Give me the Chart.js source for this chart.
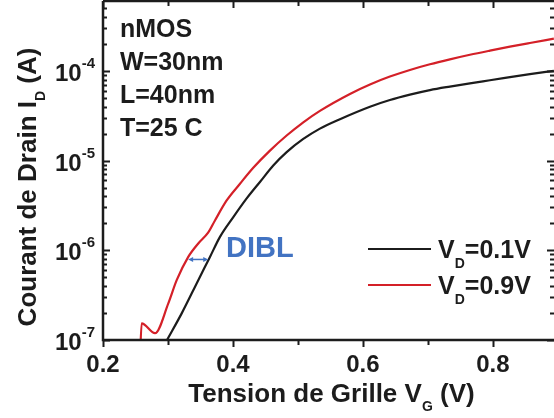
<!DOCTYPE html>
<html>
<head>
<meta charset="utf-8">
<script src="https://cdn.jsdelivr.net/npm/chart.js@4"></script>
<style>
html, body { margin: 0; padding: 0; background: #fff; }
#wrap { width: 554px; height: 418px; }
</style>
</head>
<body>
<div id="wrap"><canvas id="c"></canvas></div>
<script>
// V_D = 0.1V (black)
const vgLow = [0.2985, 0.3211, 0.3466, 0.3646, 0.380, 0.4005, 0.4211, 0.4415, 0.462, 0.4826, 0.5082, 0.5338, 0.5646, 0.6108, 0.6415, 0.6723, 0.7031, 0.7338, 0.7646, 0.7954, 0.8262, 0.8569, 0.8938];
const idLow = [1.0e-7, 1.98e-7, 4.64e-7, 8.43e-7, 1.41e-6, 2.34e-6, 3.78e-6, 5.77e-6, 8.8e-6, 1.24e-5, 1.74e-5, 2.27e-5, 2.89e-5, 3.98e-5, 4.73e-5, 5.43e-5, 6.1e-5, 6.68e-5, 7.26e-5, 7.85e-5, 8.49e-5, 9.18e-5, 1.0e-4];
// V_D = 0.9V (red)
const vgHigh = [0.2565, 0.2595, 0.280, 0.3005, 0.3134, 0.3312, 0.3466, 0.362, 0.3723, 0.3903, 0.4108, 0.4312, 0.4569, 0.4826, 0.5082, 0.5338, 0.580, 0.6108, 0.6415, 0.6723, 0.7031, 0.7338, 0.7646, 0.7954, 0.8262, 0.8569, 0.8938];
const idHigh = [5e-8, 1.53e-7, 1.19e-7, 2.56e-7, 4.64e-7, 8.43e-7, 1.19e-6, 1.58e-6, 2.15e-6, 3.59e-6, 5.51e-6, 8.3e-6, 1.29e-5, 1.9e-5, 2.67e-5, 3.58e-5, 5.53e-5, 7.05e-5, 8.63e-5, 1.023e-4, 1.183e-4, 1.343e-4, 1.51e-4, 1.679e-4, 1.858e-4, 2.042e-4, 2.28e-4];

const xMajor = [0.2, 0.4, 0.6, 0.8];
const xMajorLabels = ['0.2', '0.4', '0.6', '0.8'];
const xMinor = [0.3, 0.5, 0.7];
const yDecades = [-7, -6, -5, -4];
const notes = ['nMOS', 'W=30nm', 'L=40nm', 'T=25 C'];
const dibl = { from: 0.331, to: 0.362, at: 7.9e-7 };

const INK = '#1c1c1c';
const RED = '#d42028';
const BLUE = '#4273c2';
const FONT = '"Liberation Sans", Arial, sans-serif';

const toPts = (xs, ys) => xs.map((x, i) => ({ x: x, y: ys[i] }));

// write text made of parts (normal / sub / sup)
function rich(ctx, parts, x, y, align) {
  let w = 0;
  parts.forEach(p => { ctx.font = 'bold ' + p.size + 'px ' + FONT; p.w = ctx.measureText(p.t).width; w += p.w; });
  let cx = align === 'center' ? x - w / 2 : (align === 'right' ? x - w : x);
  ctx.textAlign = 'left';
  ctx.textBaseline = 'alphabetic';
  parts.forEach(p => {
    ctx.font = 'bold ' + p.size + 'px ' + FONT;
    ctx.fillText(p.t, cx, y + (p.dy || 0));
    cx += p.w;
  });
}

const decor = {
  id: 'decor',
  afterDraw(chart) {
    const ctx = chart.ctx;
    const a = chart.chartArea;
    const xs = chart.scales.x, ys = chart.scales.y;
    ctx.save();
    ctx.strokeStyle = INK;
    ctx.fillStyle = INK;

    // frame
    ctx.lineWidth = 2.5;
    ctx.beginPath();
    ctx.moveTo(a.left, a.top); ctx.lineTo(a.left, a.bottom);
    ctx.lineTo(a.right + 2, a.bottom);
    ctx.moveTo(a.left, a.top); ctx.lineTo(a.right + 2, a.top);
    ctx.stroke();

    // x ticks: outward at bottom, inward at top
    ctx.lineWidth = 2;
    xMajor.concat(xMinor).forEach(v => {
      const px = Math.round(xs.getPixelForValue(v)) + 0.5;
      const len = xMajor.includes(v) ? 7 : 5;
      ctx.beginPath();
      ctx.moveTo(px, a.bottom); ctx.lineTo(px, a.bottom + len);
      ctx.moveTo(px, a.top); ctx.lineTo(px, a.top + len);
      ctx.stroke();
    });

    // y ticks: inward on left and right
    yDecades.forEach(d => {
      for (let m = 1; m <= 9; m++) {
        const v = m * Math.pow(10, d);
        if (v < ys.min || v > ys.max) continue;
        const py = Math.round(ys.getPixelForValue(v)) + 0.5;
        const len = m === 1 ? 7 : 4;
        ctx.beginPath();
        ctx.moveTo(a.left, py); ctx.lineTo(a.left + len, py);
        ctx.moveTo(a.right, py); ctx.lineTo(a.right - len, py);
        ctx.stroke();
      }
    });

    // x tick labels
    ctx.font = 'bold 24px ' + FONT;
    ctx.textAlign = 'center';
    ctx.textBaseline = 'alphabetic';
    xMajor.forEach((v, i) => ctx.fillText(xMajorLabels[i], xs.getPixelForValue(v), a.bottom + 32));

    // y tick labels 10^n
    yDecades.forEach(d => {
      const py = ys.getPixelForValue(Math.pow(10, d));
      rich(ctx, [{ t: '10', size: 24 }, { t: String(d), size: 15, dy: -13 }], 95, py + 10, 'right');
    });

    // axis titles
    rich(ctx, [{ t: 'Tension de Grille V', size: 26 }, { t: 'G', size: 14, dy: 9 }, { t: ' (V)', size: 26 }],
      (a.left + a.right) / 2 + 3, a.bottom + 62, 'center');
    ctx.save();
    ctx.translate(36, 187);
    ctx.rotate(-Math.PI / 2);
    rich(ctx, [{ t: 'Courant de Drain I', size: 26 }, { t: 'D', size: 14, dy: 9 }, { t: ' (A)', size: 26 }], 0, 0, 'center');
    ctx.restore();

    // notes
    notes.forEach((t, i) => rich(ctx, [{ t: t, size: 25 }], 120, 37 + i * 33, 'left'));

    // legend
    const sets = chart.data.datasets;
    [249, 285].forEach((ly, i) => {
      ctx.strokeStyle = sets[i].borderColor;
      ctx.lineWidth = 2;
      ctx.beginPath(); ctx.moveTo(368, ly); ctx.lineTo(431, ly); ctx.stroke();
      ctx.fillStyle = INK;
      rich(ctx, [{ t: 'V', size: 25 }, { t: 'D', size: 14, dy: 10 }, { t: sets[i].label, size: 25 }], 438, ly + 9, 'left');
    });

    // DIBL arrow + label
    const ax1 = xs.getPixelForValue(dibl.from), ax2 = xs.getPixelForValue(dibl.to);
    const ay = ys.getPixelForValue(dibl.at);
    ctx.strokeStyle = BLUE; ctx.fillStyle = BLUE; ctx.lineWidth = 1.5;
    ctx.beginPath(); ctx.moveTo(ax1 + 3, ay); ctx.lineTo(ax2 - 3, ay); ctx.stroke();
    [[ax1, 1], [ax2, -1]].forEach(([hx, s]) => {
      ctx.beginPath();
      ctx.moveTo(hx, ay); ctx.lineTo(hx + 5 * s, ay - 2.5); ctx.lineTo(hx + 5 * s, ay + 2.5);
      ctx.closePath(); ctx.fill();
    });
    ctx.font = 'bold 29px ' + FONT;
    ctx.textAlign = 'left';
    ctx.textBaseline = 'alphabetic';
    ctx.fillText('DIBL', 226, 257);
    ctx.restore();
  }
};

new Chart(document.getElementById('c'), {
  type: 'line',
  data: {
    datasets: [
      { label: '=0.1V', data: toPts(vgLow, idLow), borderColor: INK, borderWidth: 2.2, pointRadius: 0, cubicInterpolationMode: 'monotone' },
      { label: '=0.9V', data: toPts(vgHigh, idHigh), borderColor: RED, borderWidth: 2.2, pointRadius: 0, cubicInterpolationMode: 'monotone' }
    ]
  },
  options: {
    responsive: true,
    maintainAspectRatio: false,
    animation: false,
    layout: { padding: { top: 1, right: 0, left: 0, bottom: 0 } },
    plugins: { legend: { display: false }, tooltip: { enabled: false } },
    scales: {
      x: {
        type: 'linear', min: 0.2, max: 0.894,
        grid: { display: false }, border: { display: false },
        ticks: { display: false },
        afterFit: s => { s.height = 78; }
      },
      y: {
        type: 'logarithmic', min: 1e-7, max: 6e-4,
        grid: { display: false }, border: { display: false },
        ticks: { display: false },
        afterFit: s => { s.width = 103; }
      }
    }
  },
  plugins: [decor]
});
</script>
</body>
</html>
